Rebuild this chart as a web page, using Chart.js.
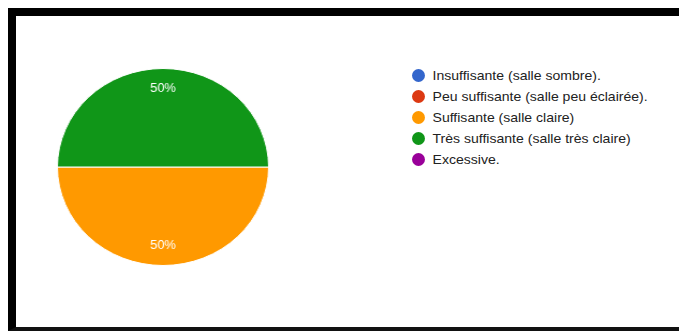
<!DOCTYPE html>
<html>
<head>
<meta charset="utf-8">
<script src="https://cdn.jsdelivr.net/npm/chart.js@4"></script>
<style>
  html, body { margin: 0; padding: 0; background: #fff; }
  body { width: 679px; height: 331px; position: relative; overflow: hidden; font-family: Arial, 'Liberation Sans', sans-serif; }
  .frame {
    position: absolute; left: 8px; top: 8px; width: 663px; height: 311px;
    border-top: 8px solid #000; border-left: 8px solid #000; border-bottom: 4px solid #111;
  }
  .pie-wrap {
    position: absolute; left: 53px; top: 57px; width: 220px; height: 220px;
    transform: scaleX(1.072); transform-origin: center;
  }
  .legend {
    position: absolute; left: 412px; top: 66px; margin: 0; padding: 0; list-style: none;
    transform: scaleX(1.08); transform-origin: left top;
  }
  .legend li { height: 21px; line-height: 20px; font-size: 13px; color: #222; white-space: nowrap; }
  .legend .dot { display: inline-block; width: 12px; height: 13px; border-radius: 50%; vertical-align: -2px; margin-right: 7px; }
</style>
</head>
<body>
<div class="frame"></div>
<div class="pie-wrap"><canvas id="pieChart"></canvas></div>
<ul class="legend" id="legend"></ul>
<script>
const labels = [
  'Insuffisante (salle sombre).',
  'Peu suffisante (salle peu éclairée).',
  'Suffisante (salle claire)',
  'Très suffisante (salle très claire)',
  'Excessive.',
];
const counts = [0, 0, 1, 1, 0];
const colors = ['#3366cc', '#dc3912', '#ff9900', '#109618', '#990099'];

// percent labels inside slices
const pctLabels = {
  id: 'pctLabels',
  afterDatasetsDraw(chart) {
    const ctx = chart.ctx;
    const data = chart.data.datasets[0].data;
    const total = data.reduce((a, b) => a + b, 0);
    chart.getDatasetMeta(0).data.forEach((arc, i) => {
      if (!data[i]) return;
      const { x, y, startAngle, endAngle, outerRadius } = arc.getProps(['x', 'y', 'startAngle', 'endAngle', 'outerRadius'], true);
      const mid = (startAngle + endAngle) / 2;
      const r = outerRadius * 0.8;
      ctx.save();
      ctx.fillStyle = '#fff';
      ctx.font = "12px Arial, 'Liberation Sans', sans-serif";
      ctx.textAlign = 'center';
      ctx.textBaseline = 'middle';
      ctx.fillText(Math.round((data[i] / total) * 100) + '%', x + Math.cos(mid) * r, y + Math.sin(mid) * r);
      ctx.restore();
    });
  },
};

new Chart(document.getElementById('pieChart'), {
  type: 'pie',
  data: {
    labels: labels,
    datasets: [
      {
        data: counts,
        backgroundColor: colors,
        borderColor: '#fff',
        borderWidth: 1,
      },
    ],
  },
  options: {
    responsive: true,
    maintainAspectRatio: false,
    animation: false,
    events: [],
    rotation: 90,
    layout: { padding: 11 },
    plugins: {
      legend: { display: false },
      tooltip: { enabled: false },
    },
  },
  plugins: [pctLabels],
});

// html legend
const legendEl = document.getElementById('legend');
labels.forEach((label, i) => {
  const li = document.createElement('li');
  const dot = document.createElement('span');
  dot.className = 'dot';
  dot.style.background = colors[i];
  li.appendChild(dot);
  li.appendChild(document.createTextNode(label));
  legendEl.appendChild(li);
});
</script>
</body>
</html>
